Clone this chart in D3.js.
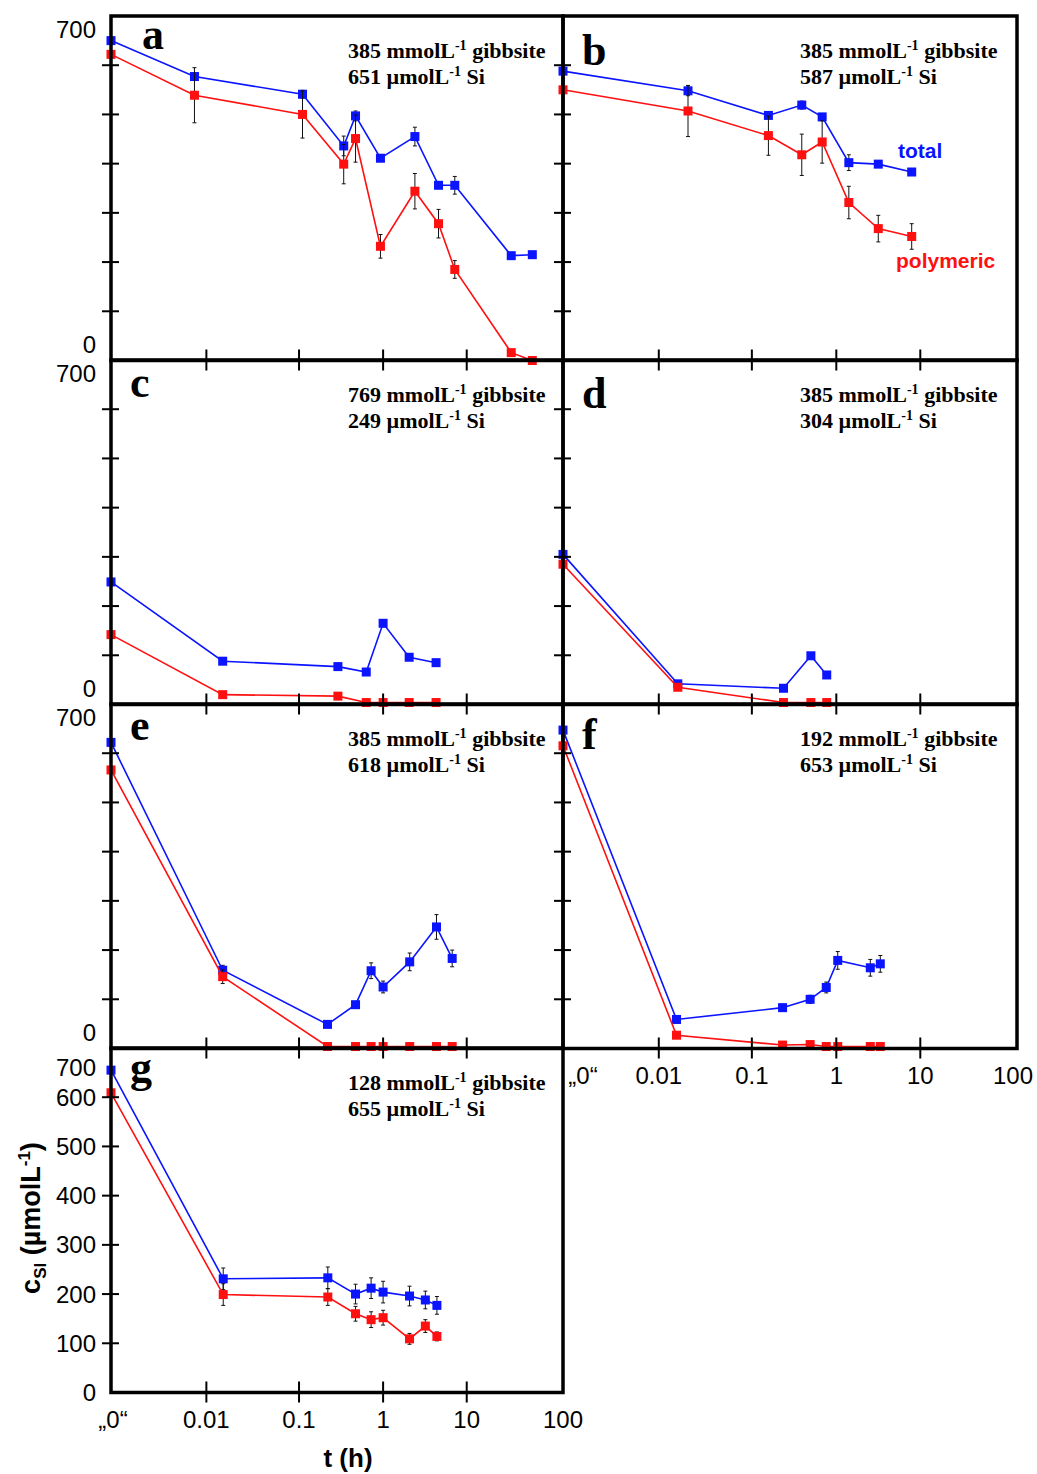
<!DOCTYPE html>
<html>
<head>
<meta charset="utf-8">
<script src="https://cdn.jsdelivr.net/npm/d3@7"></script>
<style>
  body { margin: 0; background: #fff; }
  svg { display: block; }
</style>
</head>
<body>
<svg id="chart" width="1037" height="1474"></svg>
<script>
// ---- Axis definitions ----------------------------------------------------
// The "„0“" sample is placed at t = 1e-3 h on the logarithmic time axis.
const T_ZERO = 0.001;
const xTickValues = [0.001, 0.01, 0.1, 1, 10, 100];
const xTickLabels = ["„0“", "0.01", "0.1", "1", "10", "100"];
const yTickValues = [0, 100, 200, 300, 400, 500, 600, 700];

// ---- Panel a: 385 mmol/L gibbsite, 651 µmol/L Si -------------------------
const tA        = [0, 0.0075, 0.11, 0.34, 0.47, 0.93, 2.4, 4.6, 7.2, 29, 48];
const totalA    = [650, 577, 541, 436, 497, 411, 455, 356, 356, 213, 215];
const polyA     = [622, 539, 500, 399, 451, 232, 344, 278, 185, 16, 0];
const totalErrA = [0, 0, 8, 20, 10, 0, 19, 0, 18, 0, 0];
const polyErrA  = [0, 56, 48, 40, 48, 24, 36, 29, 18, 0, 0];

// ---- Panel b: 385 mmol/L gibbsite, 587 µmol/L Si -------------------------
const tB        = [0, 0.0206, 0.157, 0.39, 0.68, 1.41, 3.16, 7.9];
const totalB    = [588, 548, 498, 519, 495, 402, 399, 383];
const polyB     = [550, 507, 457, 418, 444, 321, 268, 252];
const totalErrB = [0, 10, 0, 8, 0, 16, 6, 0];
const polyErrB  = [0, 52, 40, 42, 43, 33, 27, 26];

// ---- Panel c: 769 mmol/L gibbsite, 249 µmol/L Si -------------------------
const tC        = [0, 0.015, 0.29, 0.63, 1.0, 2.05, 4.3];
const totalC    = [249, 88, 77, 66, 165, 96, 85];
const polyC     = [142, 20, 17, 4, 4, 4, 4];
const totalErrC = [0, 0, 0, 0, 0, 0, 0];
const polyErrC  = [0, 0, 0, 0, 0, 0, 0];

// ---- Panel d: 385 mmol/L gibbsite, 304 µmol/L Si -------------------------
const tD        = [0, 0.016, 0.237, 0.5, 0.77];
const totalD    = [305, 42, 33, 99, 60];
const polyD     = [285, 35, 4, 4, 4];
const totalErrD = [0, 0, 0, 0, 0];
const polyErrD  = [0, 0, 0, 0, 0];

// ---- Panel e: 385 mmol/L gibbsite, 618 µmol/L Si -------------------------
const tE        = [0, 0.015, 0.218, 0.47, 0.72, 1.0, 2.08, 4.35, 6.7];
const totalE    = [622, 159, 49, 89, 158, 125, 176, 247, 183];
const polyE     = [566, 146, 4, 4, 4, 4, 4, 4, 4];
const totalErrE = [0, 10, 0, 6, 16, 12, 18, 25, 17];
const polyErrE  = [0, 14, 0, 0, 0, 0, 0, 0, 0];

// ---- Panel f: 192 mmol/L gibbsite, 653 µmol/L Si -------------------------
const tF        = [0, 0.0155, 0.231, 0.49, 0.76, 1.04, 2.54, 3.34];
const totalF    = [647, 59, 83, 100, 124, 179, 164, 172];
const polyF     = [615, 27, 7, 8, 4, 4, 4, 4];
const totalErrF = [0, 0, 0, 8, 11, 18, 17, 17];
const polyErrF  = [0, 0, 0, 0, 0, 0, 0, 0];

// ---- Panel g: 128 mmol/L gibbsite, 655 µmol/L Si -------------------------
const tG        = [0, 0.0152, 0.22, 0.47, 0.72, 1.0, 2.07, 3.2, 4.4];
const totalG    = [655, 231, 233, 200, 212, 204, 196, 188, 177];
const polyG     = [609, 199, 194, 160, 148, 152, 109, 135, 114];
const totalErrG = [0, 22, 22, 20, 21, 22, 20, 18, 18];
const polyErrG  = [0, 22, 17, 15, 16, 15, 11, 13, 9];

// ---- Panel captions -------------------------------------------------------
const panelLetters = ["a", "b", "c", "d", "e", "f", "g"];
const gibbsiteConc = ["385", "385", "769", "385", "385", "192", "128"];
const siliconConc  = ["651", "587", "249", "304", "618", "653", "655"];
const seriesNames  = ["total", "polymeric"];

// ---- Layout ----------------------------------------------------------------
const COL_X = [[111, 563], [563, 1017]];
const ROW_Y = [16, 360, 704, 1048];
const PANEL_H = 344.5;
// stretched decades of the published time axis ("0", 0.01 … 100)
const X_FRACTIONS = [0, 0.211, 0.416, 0.602, 0.787, 1];
const BLUE = "#0a14ff", RED = "#ff1010";

const panels = [
  { t: tA, total: totalA, poly: polyA, tErr: totalErrA, pErr: polyErrA, col: 0, row: 0, letter: [31, 33] },
  { t: tB, total: totalB, poly: polyB, tErr: totalErrB, pErr: polyErrB, col: 1, row: 0, letter: [19, 49] },
  { t: tC, total: totalC, poly: polyC, tErr: totalErrC, pErr: polyErrC, col: 0, row: 1, letter: [19, 37] },
  { t: tD, total: totalD, poly: polyD, tErr: totalErrD, pErr: polyErrD, col: 1, row: 1, letter: [19, 48] },
  { t: tE, total: totalE, poly: polyE, tErr: totalErrE, pErr: polyErrE, col: 0, row: 2, letter: [19, 36] },
  { t: tF, total: totalF, poly: polyF, tErr: totalErrF, pErr: polyErrF, col: 1, row: 2, letter: [19, 45] },
  { t: tG, total: totalG, poly: polyG, tErr: totalErrG, pErr: polyErrG, col: 0, row: 3, letter: [19, 34] }
];

const svg = d3.select("#chart");
const SANS = "'Liberation Sans', Arial, sans-serif";
const SERIF = "'Liberation Serif', 'Times New Roman', serif";

panels.forEach((p, i) => {
  const [x0, x1] = COL_X[p.col];
  const y0 = ROW_Y[p.row], y1 = y0 + PANEL_H;
  const x = d3.scaleLog()
    .domain(xTickValues)
    .range(X_FRACTIONS.map(f => x0 + f * (x1 - x0)));
  const y = d3.scaleLinear().domain([0, 700]).range([y1, y0]);
  const xt = t => x(Math.max(t, T_ZERO));

  const g = svg.append("g").attr("class", "panel panel-" + panelLetters[i]);

  const series = [
    { vals: p.total, err: p.tErr, color: BLUE },
    { vals: p.poly,  err: p.pErr, color: RED }
  ];

  series.forEach(s => {
    const pts = p.t.map((t, k) => ({ t, v: s.vals[k], e: s.err[k] }));
    g.append("path")
      .datum(pts)
      .attr("fill", "none")
      .attr("stroke", s.color)
      .attr("stroke-width", 1.6)
      .attr("d", d3.line().x(d => xt(d.t)).y(d => y(d.v)));

    const eb = g.append("g").selectAll("g")
      .data(pts.filter(d => d.e > 0)).join("g")
      .attr("stroke", "#111").attr("stroke-width", 1);
    eb.append("line")
      .attr("x1", d => xt(d.t)).attr("x2", d => xt(d.t))
      .attr("y1", d => y(d.v - d.e)).attr("y2", d => y(d.v + d.e));
    eb.append("line")
      .attr("x1", d => xt(d.t) - 2).attr("x2", d => xt(d.t) + 2)
      .attr("y1", d => y(d.v + d.e)).attr("y2", d => y(d.v + d.e));
    eb.append("line")
      .attr("x1", d => xt(d.t) - 2).attr("x2", d => xt(d.t) + 2)
      .attr("y1", d => y(d.v - d.e)).attr("y2", d => y(d.v - d.e));

    g.append("g").selectAll("rect")
      .data(pts).join("rect")
      .attr("x", d => xt(d.t) - 4.5).attr("y", d => y(d.v) - 4.5)
      .attr("width", 9).attr("height", 9)
      .attr("fill", s.color);
  });

  // frame
  g.append("rect")
    .attr("x", x0).attr("y", y0)
    .attr("width", x1 - x0).attr("height", PANEL_H)
    .attr("fill", "none").attr("stroke", "#000").attr("stroke-width", 3.5);

  // value ticks straddling the left edge
  g.append("g").selectAll("line")
    .data(yTickValues.slice(1, -1)).join("line")
    .attr("x1", x0 - 9).attr("x2", x0 + 8)
    .attr("y1", d => y(d)).attr("y2", d => y(d))
    .attr("stroke", "#000").attr("stroke-width", 2);

  // time ticks straddling the bottom edge
  g.append("g").selectAll("line")
    .data(xTickValues.slice(1, -1)).join("line")
    .attr("x1", d => x(d)).attr("x2", d => x(d))
    .attr("y1", y1 - 11).attr("y2", y1 + 10)
    .attr("stroke", "#000").attr("stroke-width", 2);

  // value labels
  if (p.col === 0) {
    const labels = p.row === 3 ? yTickValues : [0, 700];
    g.append("g").selectAll("text")
      .data(labels).join("text")
      .attr("x", x0 - 15)
      .attr("y", d => {
        if (p.row === 3) return d === 700 ? y0 + 19 : y(d);
        return d === 700 ? y0 + 13 : y1 - 16;
      })
      .attr("dy", "0.36em")
      .attr("text-anchor", "end")
      .attr("font-family", SANS).attr("font-size", 24)
      .text(d => d);
  }

  // time labels below the bottom row of each column
  if ((p.col === 0 && p.row === 3) || (p.col === 1 && p.row === 2)) {
    g.append("g").selectAll("text")
      .data(xTickValues).join("text")
      .attr("x", (d, k) => x(d) + (k === 0 ? (p.col === 1 ? 20 : 2) : (k === 5 && p.col === 1 ? -4 : 0)))
      .attr("y", y1 + 35)
      .attr("text-anchor", "middle")
      .attr("font-family", SANS).attr("font-size", 24)
      .text((d, k) => xTickLabels[k]);
  }

  // panel letter
  g.append("text")
    .attr("x", x0 + p.letter[0]).attr("y", y0 + p.letter[1])
    .attr("font-family", SERIF).attr("font-weight", "bold").attr("font-size", 44)
    .text(panelLetters[i]);

  // concentration caption
  const cap = g.append("text")
    .attr("font-family", SERIF).attr("font-weight", "bold").attr("font-size", 22);
  const l1 = cap.append("tspan").attr("x", x0 + 237).attr("y", y0 + 42);
  l1.append("tspan").text(gibbsiteConc[i] + " mmolL");
  l1.append("tspan").attr("font-size", 14).attr("dy", -8).text("-1");
  l1.append("tspan").attr("dy", 8).text(" gibbsite");
  const l2 = cap.append("tspan").attr("x", x0 + 237).attr("y", y0 + 68);
  l2.append("tspan").text(siliconConc[i] + " µmolL");
  l2.append("tspan").attr("font-size", 14).attr("dy", -8).text("-1");
  l2.append("tspan").attr("dy", 8).text(" Si");

  // series names in panel b
  if (i === 1) {
    g.append("text").attr("x", 898).attr("y", 158)
      .attr("font-family", SANS).attr("font-weight", "bold").attr("font-size", 21)
      .attr("fill", BLUE).text(seriesNames[0]);
    g.append("text").attr("x", 896).attr("y", 268)
      .attr("font-family", SANS).attr("font-weight", "bold").attr("font-size", 21)
      .attr("fill", RED).text(seriesNames[1]);
  }
});

// axis titles
const yTitle = svg.append("text")
  .attr("transform", "translate(40,1218) rotate(-90)")
  .attr("text-anchor", "middle")
  .attr("font-family", SANS).attr("font-weight", "bold").attr("font-size", 27);
yTitle.append("tspan").text("c");
yTitle.append("tspan").attr("font-size", 17).attr("dy", 6).text("SI");
yTitle.append("tspan").attr("dy", -6).text(" (µmolL");
yTitle.append("tspan").attr("font-size", 17).attr("dy", -10).text("-1");
yTitle.append("tspan").attr("dy", 10).text(")");

svg.append("text")
  .attr("x", 348).attr("y", 1467)
  .attr("text-anchor", "middle")
  .attr("font-family", SANS).attr("font-weight", "bold").attr("font-size", 26)
  .text("t (h)");
</script>
</body>
</html>
